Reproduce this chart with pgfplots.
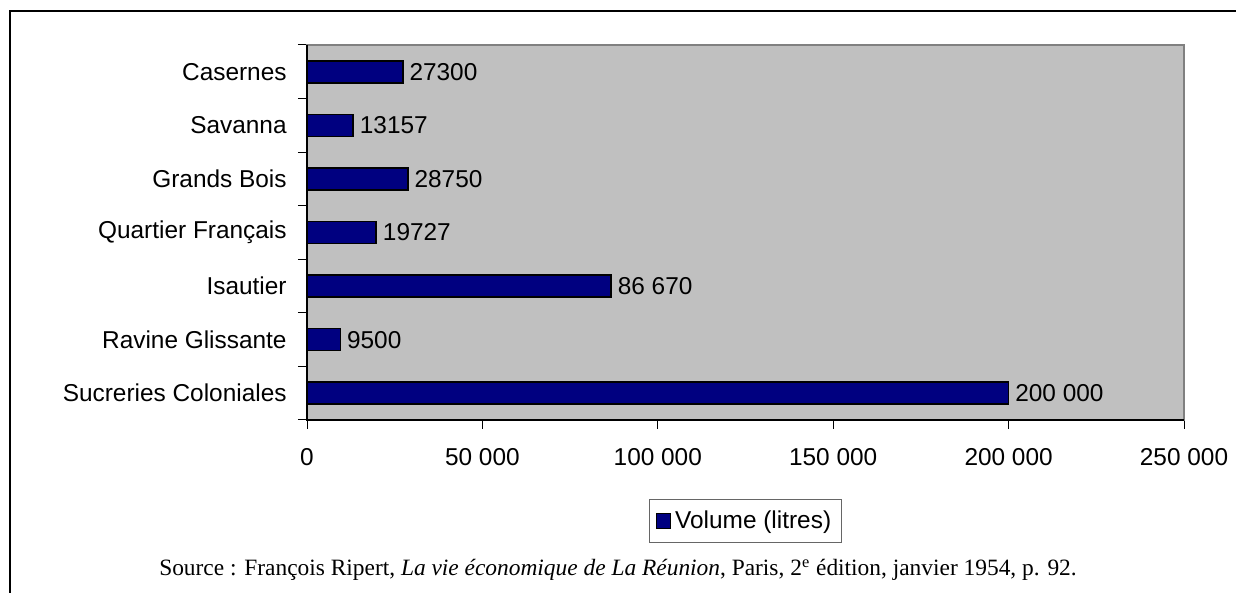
\documentclass[border=0pt]{standalone}
\usepackage{fontspec}
\setmainfont{Liberation Sans}
\newfontfamily\timesfont{Liberation Serif}
\usepackage{pgfplots}
\usepackage{pgfplotstable}
\pgfplotsset{compat=1.18}
\definecolor{navybar}{RGB}{0,0,128}
\definecolor{plotgray}{RGB}{192,192,192}
\definecolor{bordergray}{RGB}{128,128,128}
\pgfplotstableread[col sep=comma]{
y,x,label
0,200000,200 000
1,9500,9500
2,86670,86 670
3,19727,19727
4,28750,28750
5,13157,13157
6,27300,27300
}\datatable
\begin{document}
\begin{tikzpicture}
\path[use as bounding box] (0,0) rectangle (618pt,296.5pt);
\draw[line width=1pt] (5pt,0) -- (5pt,291pt) -- (618pt,291pt);
\begin{axis}[
  at={(153.5pt,86.5pt)}, anchor=south west,
  scale only axis, width=438.5pt, height=187.5pt,
  xmin=0, xmax=250000, ymin=-0.5, ymax=6.5,
  axis background/.style={fill=plotgray},
  axis line style={draw=bordergray, line width=0.8pt},
  tick align=outside,
  xtick pos=left, ytick pos=left,
  scaled x ticks=false,
  major tick length=4.5pt,
  tick style={black, line width=0.5pt},
  xtick={0,50000,100000,150000,200000,250000},
  xticklabels={0,50 000,100 000,150 000,200 000,250 000},
  xticklabel style={anchor=north, inner sep=0pt, yshift=-9.5pt},
  ytick={-0.5,0.5,1.5,2.5,3.5,4.5,5.5,6.5},
  yticklabels={},
  extra y ticks={0,1,2,3,4,5,6},
  extra y tick labels={Sucreries Coloniales,Ravine Glissante,Isautier,Quartier Français,Grands Bois,Savanna,Casernes},
  extra y tick style={major tick length=0pt, yticklabel style={anchor=east, inner sep=0pt, xshift=-10pt}},
  font=\fontsize{12.2}{14}\selectfont,
  ticklabel style={font=\fontsize{12.2}{14}\selectfont},
  xbar, bar width=11pt,
  point meta=explicit symbolic,
  nodes near coords,
  nodes near coords style={anchor=west, inner sep=0pt, xshift=3pt, font=\fontsize{12.2}{14}\selectfont},
  legend style={at={(0.5,-0.2107)}, anchor=north, draw=black!60, line width=0.5pt,
    font=\fontsize{12.2}{14}\selectfont, inner xsep=3pt, inner ysep=3.5pt},
  legend cell align=left,
  clip=false,
]
\addplot[fill=navybar, draw=black, line width=0.75pt, area legend,
  legend image code/.code={\draw[fill=navybar, draw=black, line width=0.5pt] (0pt,-3.6pt) rectangle (7.2pt,3.6pt);}]
  table[x=x, y=y, meta=label] {\datatable};
\addlegendentry{Volume (litres)}
\draw[black, line width=0.6pt] (axis cs:0,6.5) -- (axis cs:0,-0.5) -- (axis cs:250000,-0.5);
\end{axis}
\node[anchor=base, font=\timesfont\fontsize{11.7}{13}\selectfont] at (309pt,8.5pt)
  {Source : François Ripert, \textit{La vie économique de La Réunion}, Paris, 2\textsuperscript{e} édition, janvier 1954, p. 92.};
\end{tikzpicture}
\end{document}
